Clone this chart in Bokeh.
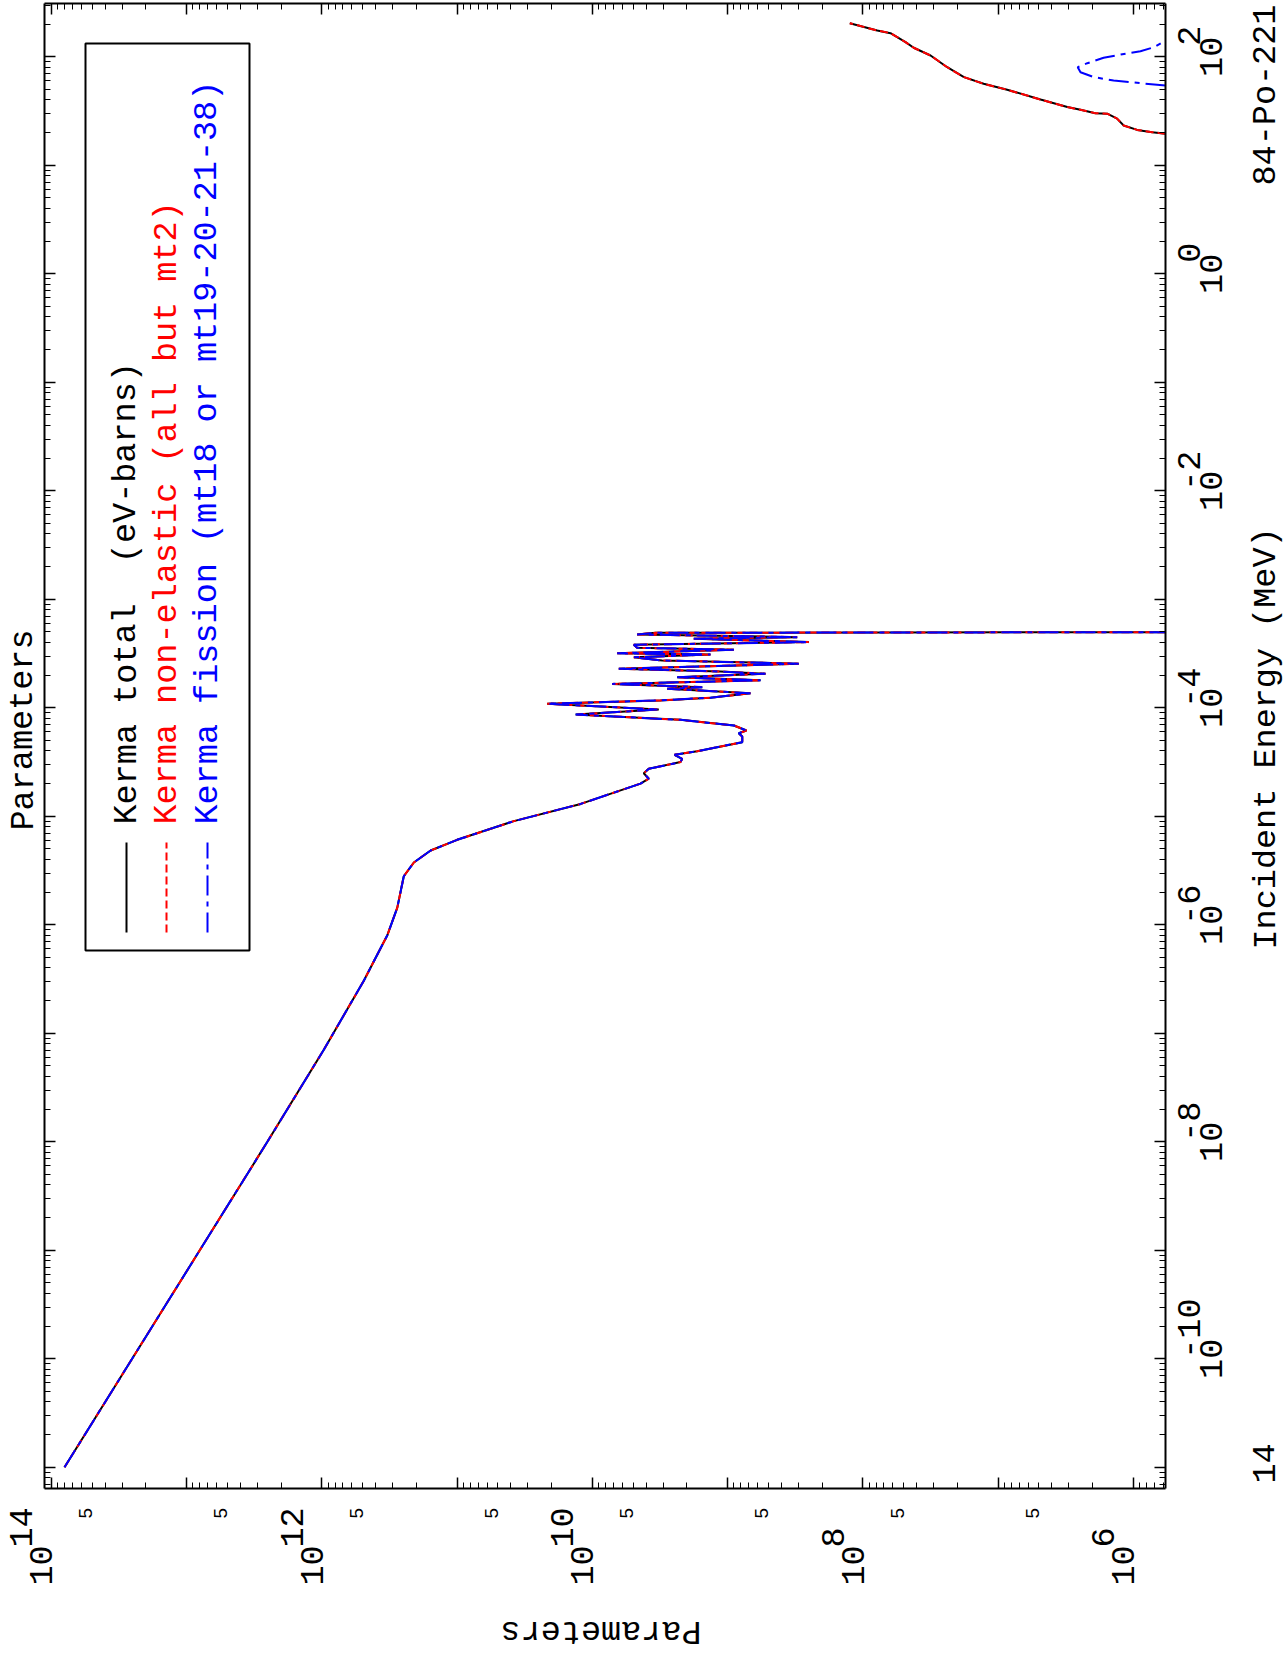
import math
from bokeh.plotting import figure
from bokeh.models import (Range1d, FixedTicker, LogAxis, CustomJSTickFormatter,
                          LabelSet, ColumnDataSource, BoxAnnotation, Arrow)
from bokeh.core.properties import value
from bokeh.embed import file_html
from bokeh.resources import INLINE

# ---------------- data (Incident energy in MeV, kerma in eV-barns) ----------------
energy_low = [1.00e-11, 1.00e-10, 1.00e-9, 1.00e-8, 7.05e-8, 3.05e-7, 7.96e-7, 1.44e-6,
              2.80e-6, 3.75e-6, 4.84e-6, 6.07e-6, 9.02e-6, 1.30e-5, 2.00e-5, 2.22e-5,
              2.49e-5, 2.74e-5, 3.16e-5, 3.39e-5, 3.69e-5, 3.98e-5, 4.82e-5, 5.43e-5,
              5.83e-5, 6.18e-5, 6.87e-5, 7.74e-5, 8.32e-5]
kerma_low = [8.00e13, 2.53e13, 8.00e12, 2.53e12, 9.68e11, 4.90e11, 3.29e11, 2.77e11,
             2.48e11, 2.09e11, 1.57e11, 1.00e11, 3.81e10, 1.22e10, 4.41e9, 3.83e9,
             4.17e9, 3.83e9, 2.23e9, 2.17e9, 2.47e9, 1.68e9, 7.80e8, 7.80e8,
             8.28e8, 7.26e8, 8.99e8, 2.23e9, 6.95e9]

energy_res = [8.67e-5, 9.64e-5, 1.09e-4, 1.17e-4, 1.24e-4, 1.36e-4, 1.50e-4, 1.55e-4,
              1.66e-4, 1.79e-4, 1.91e-4, 2.06e-4, 2.16e-4, 2.29e-4, 2.55e-4, 2.73e-4,
              2.92e-4, 3.10e-4, 3.18e-4, 3.43e-4, 3.57e-4, 3.81e-4, 4.03e-4, 4.33e-4,
              4.48e-4, 4.74e-4, 4.91e-4]
kerma_res = [1.33e10, 3.23e9, 2.16e10, 3.14e9, 1.34e9, 6.78e8, 2.80e9, 1.54e9,
             7.14e9, 5.71e8, 2.36e9, 5.25e8, 1.13e9, 6.38e9, 2.98e8, 3.05e9,
             4.94e9, 1.34e9, 6.56e9, 8.99e8, 4.67e9, 4.94e9, 2.51e8, 1.78e9,
             3.06e8, 4.67e9, 3.41e9]

# end of the resolved region: the curve drops below the lowest plotted value
energy_drop = [4.98e-4]
kerma_drop = [5.79e5]

energy_high_total = [19.5, 20.2, 21.2, 23.3, 26.9, 29.9, 30.2, 32.5, 34.4, 40.4, 49.7,
                     56.4, 64.9, 80.2, 102.8, 121.1, 136.5, 165.2, 174.6, 204.2]
kerma_high_total = [5.79e5, 7.26e5, 9.38e5, 1.18e6, 1.32e6, 1.56e6, 1.91e6, 2.46e6, 3.08e6,
                    4.86e6, 8.57e6, 1.28e7, 1.79e7, 2.38e7, 3.16e7, 4.21e7, 4.84e7,
                    6.25e7, 7.83e7, 1.25e8]

energy_high_fission = [54.4, 57.1, 60.5, 64.9, 72.1, 80.2, 87.3, 97.9, 105.0, 112.7,
                       122.5, 141.3]
kerma_high_fission = [5.79e5, 8.87e5, 1.40e6, 1.96e6, 2.46e6, 2.58e6, 2.19e6, 1.66e6,
                      1.24e6, 8.87e5, 7.06e5, 5.79e5]

series_names = ["Kerma total \u00a0(eV-barns)",
                "Kerma non-elastic (all but mt2)",
                "Kerma fission (mt18 or mt19-20-21-38)"]
series_colors = ["black", "red", "blue"]
series_dash = ["solid", "8 4", "20 6 5 6"]

x_label_ticks = [1e14, 1e12, 1e10, 1e8, 1e6]
x_label_exps = ["14", "12", "10", "8", "6"]
x_five_ticks = [5e13, 5e12, 5e11, 5e10, 5e9, 5e8, 5e7, 5e6]
y_label_ticks = [1e2, 1e0, 1e-2, 1e-4, 1e-6, 1e-8, 1e-10]
y_label_exps = ["2", "0", "-2", "-4", "-6", "-8", "-10"]

# ---------------- assemble series (NaN breaks the off-scale stretch) ----------------
NAN = float("nan")
e_total = energy_low + energy_res + energy_drop + [NAN] + energy_high_total
k_total = kerma_low + kerma_res + kerma_drop + [NAN] + kerma_high_total
e_fis = energy_low + energy_res + energy_drop + [NAN] + energy_high_fission
k_fis = kerma_low + kerma_res + kerma_drop + [NAN] + kerma_high_fission
series = [(k_total, e_total), (list(k_total), list(e_total)), (k_fis, e_fis)]

MONO = "Liberation Mono"
FS = "33.5px"
W, H = 1287, 1656

# plotting box (the drawn frame) inside the full-canvas data area
X_BOX = (10 ** 14.0473, 10 ** 5.7627)
Y_BOX = (10 ** -11.1954, 10 ** 2.4912)

p = figure(width=W, height=H, x_axis_type="log", y_axis_type="log",
           x_range=Range1d(10 ** 14.3763, 10 ** 4.8606),
           y_range=Range1d(10 ** -12.744, 10 ** 2.5189),
           toolbar_location=None, output_backend="svg", min_border=0)
p.grid.visible = False
p.background_fill_color = "white"
p.border_fill_color = "white"
p.outline_line_color = None


def inside(vals, box):
    lo, hi = min(box), max(box)
    return [v for v in vals if lo <= v <= hi]


x_major = inside([10.0 ** k for k in range(5, 15)], X_BOX)
x_minor = inside([m * 10.0 ** k for k in range(5, 15) for m in range(2, 10)], X_BOX)
y_major = inside([10.0 ** k for k in range(-12, 3)], Y_BOX)
y_minor = inside([m * 10.0 ** k for k in range(-12, 3) for m in range(2, 10)], Y_BOX)


def style_axis(ax, major, minor, loc, bounds):
    ax.ticker = FixedTicker(ticks=major, minor_ticks=minor)
    ax.formatter = CustomJSTickFormatter(code="return ''")
    ax.major_label_text_font_size = "0px"
    ax.major_label_standoff = 0
    ax.axis_label = None
    ax.fixed_location = loc
    ax.bounds = (min(bounds), max(bounds))
    ax.major_tick_in = 11
    ax.major_tick_out = 0
    ax.minor_tick_in = 6
    ax.minor_tick_out = 0
    ax.axis_line_width = 2
    ax.axis_line_color = "black"
    ax.major_tick_line_width = 1.5
    ax.minor_tick_line_width = 1
    ax.major_tick_line_color = "black"
    ax.minor_tick_line_color = "black"


style_axis(p.xaxis[0], x_major, x_minor, Y_BOX[0], X_BOX)
style_axis(p.yaxis[0], y_major, y_minor, X_BOX[0], Y_BOX)
right_ax = LogAxis()
style_axis(right_ax, y_major, y_minor, X_BOX[1], Y_BOX)
p.add_layout(right_ax, "right")
top_ax = LogAxis()
style_axis(top_ax, x_major, x_minor, Y_BOX[1], X_BOX)
p.add_layout(top_ax, "above")

# ---------------- curves (x = kerma, y = energy) ----------------
for (kx, ey), c, d in zip(series, series_colors, series_dash):
    p.line(kx, ey, line_color=c, line_width=2, line_dash=d)

# ---------------- tick labels ----------------
tick_font = dict(text_font=value(MONO), text_font_size=value(FS), text_color="black")

bsrc = ColumnDataSource(dict(x=x_label_ticks, y=[71] * len(x_label_ticks),
                             t=["10"] * len(x_label_ticks)))
p.add_layout(LabelSet(x="x", y="y", text="t", source=bsrc, x_units="data", y_units="screen",
                      angle=math.pi / 2, text_align="left", text_baseline="alphabetic",
                      x_offset=1, **tick_font))
esrc = ColumnDataSource(dict(x=x_label_ticks, y=[109] * len(x_label_ticks), t=x_label_exps))
p.add_layout(LabelSet(x="x", y="y", text="t", source=esrc, x_units="data", y_units="screen",
                      angle=math.pi / 2, text_align="left", text_baseline="alphabetic",
                      x_offset=-19, **tick_font))
fsrc = ColumnDataSource(dict(x=x_five_ticks, y=[138] * len(x_five_ticks),
                             t=["5"] * len(x_five_ticks)))
p.add_layout(LabelSet(x="x", y="y", text="t", source=fsrc, x_units="data", y_units="screen",
                      angle=math.pi / 2, text_align="left", text_baseline="alphabetic",
                      text_font=value("Liberation Sans"), text_font_size=value("19px"),
                      text_color="black"))

rbsrc = ColumnDataSource(dict(x=[1222] * len(y_label_ticks), y=y_label_ticks,
                              t=["10"] * len(y_label_ticks)))
p.add_layout(LabelSet(x="x", y="y", text="t", source=rbsrc, x_units="screen", y_units="data",
                      angle=math.pi / 2, text_align="center", text_baseline="alphabetic",
                      **tick_font))
resrc = ColumnDataSource(dict(x=[1200] * len(y_label_ticks), y=y_label_ticks, t=y_label_exps,
                              dy=[0 if e.startswith("-") else 11 for e in y_label_exps]))
p.add_layout(LabelSet(x="x", y="y", text="t", source=resrc, x_units="screen", y_units="data",
                      angle=math.pi / 2, text_align="left", text_baseline="alphabetic",
                      y_offset="dy", **tick_font))

# ---------------- legend box and samples (drawn by hand, rotated) ----------------
p.add_layout(BoxAnnotation(left=85, right=249, bottom=706, top=1613,
                           left_units="screen", right_units="screen",
                           bottom_units="screen", top_units="screen",
                           fill_color="white", fill_alpha=1.0,
                           line_color="black", line_alpha=1.0, line_width=2))
leg_line_x = [126, 166, 207]
for c, d, lx in zip(series_colors, series_dash, leg_line_x):
    p.add_layout(Arrow(end=None, x_start=lx, y_start=724, x_end=lx, y_end=814,
                       start_units="screen", end_units="screen",
                       line_color=c, line_width=2, line_dash=d))

# ---------------- free texts: titles, axis names, legend entries ----------------
free_text = ["Incident Energy (MeV)", "84-Po-221", "14", "Parameters", "Parameters"] + series_names
free_x = [1275, 1275, 1274, 32, 701, 135, 175.5, 216]
free_y = [707, 1471, 173, 826, 35, 832, 832, 832]
free_angle = [math.pi / 2] * 4 + [math.pi] + [math.pi / 2] * 3
free_color = ["black"] * 5 + series_colors
tsrc = ColumnDataSource(dict(x=free_x, y=free_y, t=free_text, a=free_angle, c=free_color))
p.add_layout(LabelSet(x="x", y="y", text="t", angle="a", text_color="c", source=tsrc,
                      x_units="screen", y_units="screen", text_align="left",
                      text_baseline="alphabetic", text_font=value(MONO),
                      text_font_size=value(FS)))

open("out.html", "w").write(file_html(p, INLINE))
